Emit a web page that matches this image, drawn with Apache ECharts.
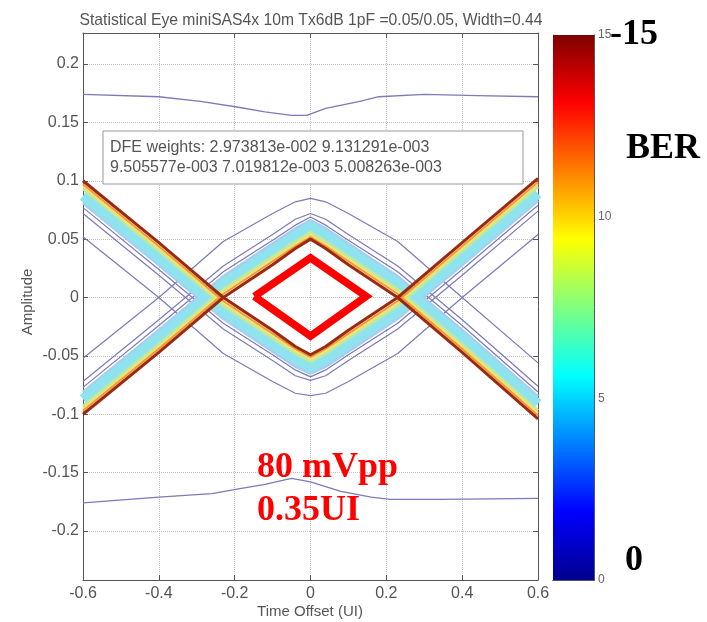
<!DOCTYPE html>
<html><head><meta charset="utf-8">
<script src="https://cdn.jsdelivr.net/npm/echarts@6/dist/echarts.min.js"></script>
<style>html,body{margin:0;padding:0;background:#fff}#c{width:707px;height:622px}</style>
</head><body><div id="c"></div>
<script>
// ---- tick values ----
const xTicks = [-0.6, -0.4, -0.2, 0, 0.2, 0.4, 0.6];
const yTicks = [-0.2, -0.15, -0.1, -0.05, 0, 0.05, 0.1, 0.15, 0.2];
const cbTicks = [0, 5, 10, 15];
const xRange = [-0.6, 0.6];
const yRange = [-0.242, 0.2266];
const cbRange = [0, 15];

// ---- eye contour sample positions (UI) ----
const xs = [-0.6, -0.4, -0.23, -0.1, -0.04, 0, 0.04, 0.1, 0.23, 0.4, 0.6];

// lower eye boundary (V) and the BER band below it
const vEdge   = [0.100, 0.047, 0.000, -0.028, -0.042, -0.049, -0.042, -0.028, 0.000, 0.047, 0.102];
const vOrange = [0.097, 0.044, -0.003, -0.031, -0.044, -0.051, -0.044, -0.031, -0.003, 0.044, 0.099];
const vYellow = [0.095, 0.042, -0.005, -0.033, -0.046, -0.053, -0.046, -0.033, -0.005, 0.042, 0.097];
const vGreen  = [0.093, 0.040, -0.007, -0.035, -0.048, -0.055, -0.048, -0.035, -0.007, 0.040, 0.095];
const vCyan   = [0.087, 0.034, -0.012, -0.040, -0.053, -0.060, -0.053, -0.040, -0.012, 0.034, 0.089];
const vBlue   = [0.081, 0.028, -0.018, -0.046, -0.059, -0.065, -0.059, -0.046, -0.018, 0.028, 0.083];
const vLine1  = [0.077, 0.024, -0.022, -0.049, -0.062, -0.068, -0.062, -0.049, -0.022, 0.024, 0.079];
const vLine2  = [0.072, 0.019, -0.027, -0.054, -0.067, -0.071, -0.067, -0.054, -0.027, 0.019, 0.074];
const vLine3  = [0.052, 0.000, -0.048, -0.072, -0.082, -0.084, -0.082, -0.072, -0.048, 0.000, 0.054];

// upper eye boundary (inverted V) and the BER band above it
const aEdge   = [-0.100, -0.047, 0.000, 0.028, 0.042, 0.050, 0.042, 0.028, 0.000, -0.047, -0.104];
const aOrange = [-0.097, -0.044, 0.003, 0.031, 0.044, 0.052, 0.044, 0.031, 0.003, -0.044, -0.101];
const aYellow = [-0.095, -0.042, 0.005, 0.033, 0.046, 0.054, 0.046, 0.033, 0.005, -0.042, -0.099];
const aGreen  = [-0.093, -0.040, 0.007, 0.035, 0.048, 0.056, 0.048, 0.035, 0.007, -0.040, -0.097];
const aCyan   = [-0.087, -0.034, 0.012, 0.040, 0.053, 0.061, 0.053, 0.040, 0.012, -0.034, -0.091];
const aBlue   = [-0.081, -0.028, 0.018, 0.046, 0.059, 0.066, 0.059, 0.046, 0.018, -0.028, -0.085];
const aLine1  = [-0.077, -0.024, 0.022, 0.049, 0.062, 0.069, 0.062, 0.049, 0.022, -0.024, -0.081];
const aLine2  = [-0.072, -0.019, 0.027, 0.054, 0.067, 0.072, 0.067, 0.054, 0.027, -0.019, -0.076];
const aLine3  = [-0.052, 0.000, 0.048, 0.072, 0.082, 0.085, 0.082, 0.072, 0.048, 0.000, -0.056];

// outer (low BER) flat traces
const topTraceX = [-0.6, -0.4, -0.29, -0.19, -0.12, -0.05, -0.01, 0.04, 0.13, 0.18, 0.3, 0.44, 0.6];
const topTraceY = [0.174, 0.172, 0.168, 0.163, 0.159, 0.156, 0.156, 0.162, 0.168, 0.172, 0.174, 0.173, 0.172];
const botTraceX = [-0.6, -0.4, -0.26, -0.19, -0.12, -0.05, 0, 0.08, 0.16, 0.21, 0.34, 0.6];
const botTraceY = [-0.176, -0.171, -0.168, -0.164, -0.160, -0.155, -0.158, -0.166, -0.171, -0.173, -0.173, -0.172];

// eye mask (red diamond)
const maskX = [-0.148, 0, 0.147, 0, -0.148];
const maskY = [0.001, 0.034, 0.001, -0.033, 0.001];

// texts
const titleText = 'Statistical Eye miniSAS4x 10m Tx6dB 1pF =0.05/0.05, Width=0.44';
const xName = 'Time Offset (UI)';
const yName = 'Amplitude';
const dfeLines = ['DFE weights: 2.973813e-002 9.131291e-003', '9.505577e-003 7.019812e-003 5.008263e-003'];
const noteLines = ['80 mVpp', '0.35UI'];

const zip = (a, b) => a.map((v, i) => [v, b[i]]);

const layers = [
  { v: vLine3, a: aLine3, color: '#7c7ab9', width: 1.2, z: 2 },
  { v: vLine2, a: aLine2, color: '#7c7ab9', width: 1.2, z: 2 },
  { v: vLine1, a: aLine1, color: '#7c7ab9', width: 1.2, z: 2 },
  { v: vBlue, a: aBlue, color: '#a9cdf2', width: 3, z: 3 },
  { v: vCyan, a: aCyan, color: '#8fe3ee', width: 10, z: 4 },
  { v: vGreen, a: aGreen, color: '#bdeaa0', width: 3, z: 5 },
  { v: vYellow, a: aYellow, color: '#f3e36a', width: 2, z: 6 },
  { v: vOrange, a: aOrange, color: '#f09a3a', width: 2, z: 7 },
  { v: vEdge, a: aEdge, color: '#9c2a10', width: 3, z: 8 }
];

const lineBase = (data, color, width, z) => ({
  type: 'line', xAxisIndex: 0, yAxisIndex: 0, data, symbol: 'none', showSymbol: false,
  silent: true, clip: true, z, animation: false,
  lineStyle: { color, width, cap: 'butt', join: 'round' }
});

const series = [];
layers.forEach(L => {
  series.push(lineBase(zip(xs, L.v), L.color, L.width, L.z));
  series.push(lineBase(zip(xs, L.a), L.color, L.width, L.z));
});
series.push(lineBase(zip(topTraceX, topTraceY), '#7c7ab9', 1.3, 8));
series.push(lineBase(zip(botTraceX, botTraceY), '#7c7ab9', 1.3, 8));
const diamond = lineBase(zip(maskX, maskY), '#ff0000', 7.5, 10);
diamond.lineStyle.join = 'miter';
series.push(diamond);

series.push({
  type: 'bar', xAxisIndex: 2, yAxisIndex: 2, data: [cbRange[1]], barWidth: '100%',
  silent: true, animation: false,
  itemStyle: {
    color: new echarts.graphic.LinearGradient(0, 0, 0, 1, [
      { offset: 0, color: '#800000' },
      { offset: 0.125, color: '#ff0000' },
      { offset: 0.375, color: '#ffff00' },
      { offset: 0.625, color: '#00ffff' },
      { offset: 0.875, color: '#0000ff' },
      { offset: 1, color: '#00008f' }
    ])
  }
});

const axCol = '#555';
const lblFont = { fontFamily: 'Liberation Sans', fontSize: 16, color: '#555' };
const gridLine = { show: true, lineStyle: { color: '#c4c4c4', type: 'dotted', width: 1 } };

const option = {
  animation: false,
  backgroundColor: '#fff',
  grid: [
    { left: 83, top: 33, width: 455, height: 547 },
    { left: 553, top: 35, width: 41, height: 545 }
  ],
  xAxis: [
    { gridIndex: 0, type: 'value', min: xRange[0], max: xRange[1], position: 'bottom',
      axisLine: { show: true, onZero: false, lineStyle: { color: axCol } },
      axisTick: { show: true, inside: true, length: 5, customValues: xTicks, lineStyle: { color: axCol } },
      axisLabel: Object.assign({ customValues: xTicks, margin: 6 }, lblFont),
      splitLine: gridLine },
    { gridIndex: 0, type: 'value', min: xRange[0], max: xRange[1], position: 'top',
      axisLine: { show: true, onZero: false, lineStyle: { color: axCol } },
      axisTick: { show: true, inside: true, length: 5, customValues: xTicks, lineStyle: { color: axCol } },
      axisLabel: { show: false }, splitLine: { show: false } },
    { gridIndex: 1, type: 'category', data: ['BER'], position: 'bottom',
      axisLine: { show: true, lineStyle: { color: axCol } }, axisTick: { show: false }, axisLabel: { show: false } },
    { gridIndex: 1, type: 'category', data: ['BER'], position: 'top',
      axisLine: { show: true, lineStyle: { color: axCol } }, axisTick: { show: false }, axisLabel: { show: false } }
  ],
  yAxis: [
    { gridIndex: 0, type: 'value', min: yRange[0], max: yRange[1], position: 'left',
      axisLine: { show: true, onZero: false, lineStyle: { color: axCol } },
      axisTick: { show: true, inside: true, length: 5, customValues: yTicks, lineStyle: { color: axCol } },
      axisLabel: Object.assign({ customValues: yTicks, margin: 4 }, lblFont),
      splitLine: gridLine },
    { gridIndex: 0, type: 'value', min: yRange[0], max: yRange[1], position: 'right',
      axisLine: { show: true, onZero: false, lineStyle: { color: axCol } },
      axisTick: { show: true, inside: true, length: 5, customValues: yTicks, lineStyle: { color: axCol } },
      axisLabel: { show: false }, splitLine: { show: false } },
    { gridIndex: 1, type: 'value', min: cbRange[0], max: cbRange[1], interval: 5, position: 'right',
      axisLine: { show: true, lineStyle: { color: axCol } },
      axisTick: { show: true, inside: true, length: 4, lineStyle: { color: axCol } },
      axisLabel: { show: true, fontFamily: 'Liberation Sans', fontSize: 12, color: '#666', margin: 4 },
      splitLine: { show: false } },
    { gridIndex: 1, type: 'value', min: cbRange[0], max: cbRange[1], interval: 5, position: 'left',
      axisLine: { show: true, lineStyle: { color: axCol } },
      axisTick: { show: true, inside: true, length: 4, lineStyle: { color: axCol } },
      axisLabel: { show: false }, splitLine: { show: false } }
  ],
  series,
  graphic: [
    { type: 'text', x: 311, y: 21, z: 50,
      style: { text: titleText, font: '15.7px "Liberation Sans"', fill: '#555', align: 'center', verticalAlign: 'middle', textAlign: 'center', textVerticalAlign: 'middle' } },
    { type: 'text', x: 310, y: 612, z: 50,
      style: { text: xName, font: '15px "Liberation Sans"', fill: '#555', align: 'center', verticalAlign: 'middle', textAlign: 'center', textVerticalAlign: 'middle' } },
    { type: 'text', x: 28, y: 302, rotation: Math.PI / 2, z: 50,
      style: { text: yName, font: '15px "Liberation Sans"', fill: '#555', align: 'center', verticalAlign: 'middle', textAlign: 'center', textVerticalAlign: 'middle' } },
    { type: 'rect', z: 60, shape: { x: 103, y: 131, width: 420, height: 53 },
      style: { fill: '#fff', stroke: '#999', lineWidth: 1 } },
    { type: 'text', x: 110, y: 148, z: 61,
      style: { text: dfeLines[0], font: '16px "Liberation Sans"', fill: '#555', align: 'left', verticalAlign: 'middle', textAlign: 'left', textVerticalAlign: 'middle' } },
    { type: 'text', x: 110, y: 168, z: 61,
      style: { text: dfeLines[1], font: '16px "Liberation Sans"', fill: '#555', align: 'left', verticalAlign: 'middle', textAlign: 'left', textVerticalAlign: 'middle' } },
    { type: 'text', x: 257, y: 468, z: 70,
      style: { text: noteLines[0], font: 'bold 36px "Liberation Serif"', fill: '#ff0000', align: 'left', verticalAlign: 'middle', textAlign: 'left', textVerticalAlign: 'middle' } },
    { type: 'text', x: 257, y: 511, z: 70,
      style: { text: noteLines[1], font: 'bold 36px "Liberation Serif"', fill: '#ff0000', align: 'left', verticalAlign: 'middle', textAlign: 'left', textVerticalAlign: 'middle' } },
    { type: 'text', x: 610, y: 35, z: 70,
      style: { text: '-15', font: 'bold 36px "Liberation Serif"', fill: '#000', align: 'left', verticalAlign: 'middle', textAlign: 'left', textVerticalAlign: 'middle' } },
    { type: 'text', x: 626, y: 149, z: 70,
      style: { text: 'BER', font: 'bold 36px "Liberation Serif"', fill: '#000', align: 'left', verticalAlign: 'middle', textAlign: 'left', textVerticalAlign: 'middle' } },
    { type: 'text', x: 625, y: 561, z: 70,
      style: { text: '0', font: 'bold 36px "Liberation Serif"', fill: '#000', align: 'left', verticalAlign: 'middle', textAlign: 'left', textVerticalAlign: 'middle' } }
  ]
};

const chart = echarts.init(document.getElementById('c'), null, { renderer: 'canvas' });
chart.setOption(option);
</script></body></html>
